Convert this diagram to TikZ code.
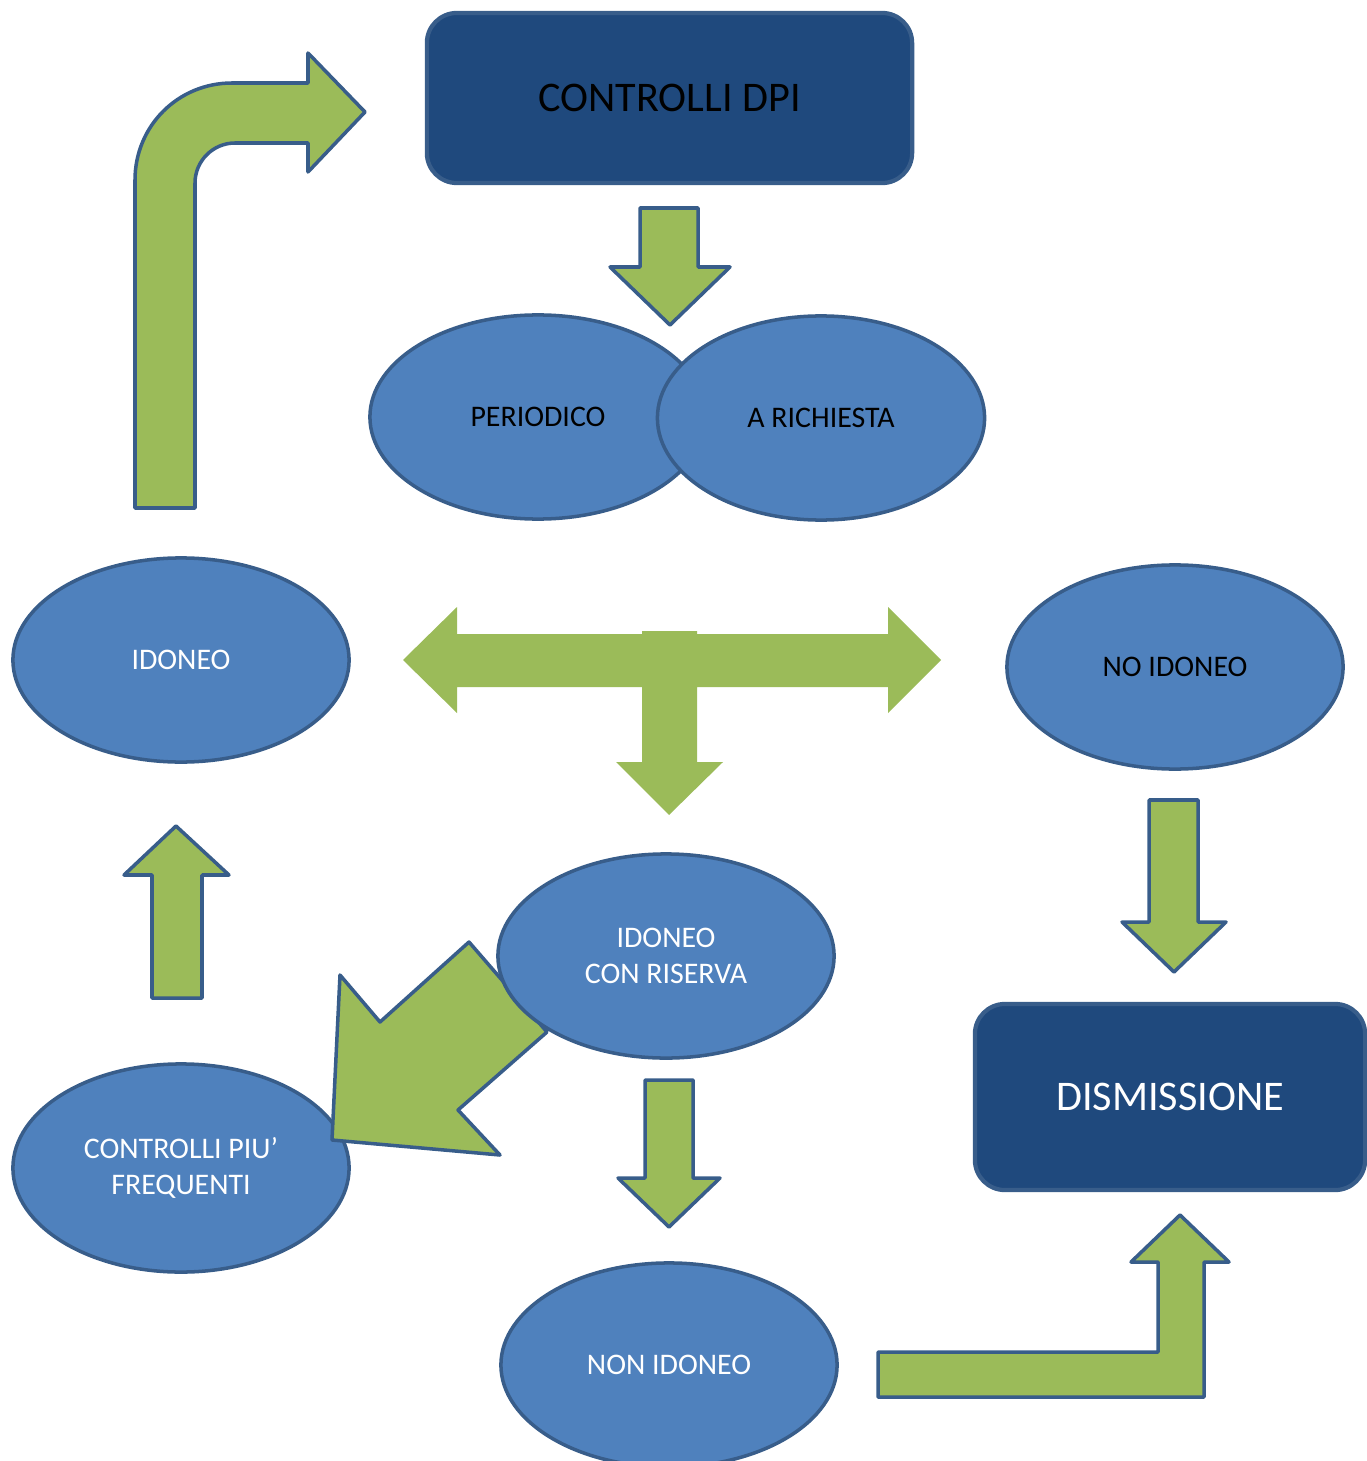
\documentclass[tikz,border=0pt]{standalone}
\usepackage{fontspec}
\setmainfont{Carlito}
\usetikzlibrary{shapes.geometric}

\definecolor{ovalblue}{HTML}{4F81BD}
\definecolor{edgeblue}{HTML}{385D8A}
\definecolor{boxblue}{HTML}{1F497D}
\definecolor{arrowgreen}{HTML}{9BBB59}

\tikzset{
  oval/.style={ellipse, draw=edgeblue, fill=ovalblue, line width=1pt, minimum width=3.36cm, minimum height=2.04cm, inner sep=0pt, align=center, font=\fontsize{8.5}{10.2}\selectfont},
  darkbox/.style={draw=edgeblue, fill=boxblue, rounded corners=0.3cm, line width=1.2pt, inner sep=0pt, font=\fontsize{12}{14}\selectfont},
  blockarrow/.style={draw=edgeblue, fill=arrowgreen, line width=1pt, line join=round}
}

\begin{document}
\begin{tikzpicture}[x=0.01cm, y=-0.01cm]
    \useasboundingbox (0,0) rectangle (1366,1461);

    % boxes
    \node[darkbox, minimum width=4.85cm, minimum height=1.7cm, text=black] (dpi) at (669.5,98) {CONTROLLI DPI};
    \node[darkbox, minimum width=3.9cm, minimum height=1.86cm, text=white] (dism) at (1170,1097) {DISMISSIONE};

    % ovals
    \node[oval, text=black] (periodico) at (538,417) {PERIODICO};
    \node[oval, minimum width=3.27cm, text=black] (richiesta) at (821,418) {A RICHIESTA};
    \node[oval, text=white] (idoneo) at (181,660) {IDONEO};
    \node[oval, text=black] (noidoneo) at (1175,667) {NO IDONEO};
    \node[oval, minimum height=2.08cm, text=white] (frequenti) at (181,1168) {CONTROLLI PIU’\\FREQUENTI};
    \node[oval, text=white] (nonidoneo) at (669,1365) {NON IDONEO};

    % block arrows
    \draw[blockarrow] (640,208) -- (698,208) -- (698,267) -- (730,267) -- (670,325) -- (610,267) -- (640,267) -- cycle;
    \draw[blockarrow] (135,508) -- (135,180) .. controls (135,126) and (178,83) .. (232,83) -- (308,83) -- (308,53) -- (365,112) -- (308,172) -- (308,143) -- (235,143) .. controls (213,143) and (195,161) .. (195,183) -- (195,508) -- cycle;
    \fill[arrowgreen] (403,660) -- (457,607) -- (457,634) -- (642,634) -- (642,631) -- (697,631) -- (697,634) -- (888,634) -- (888,607) -- (941,660) -- (888,713) -- (888,687) -- (697,687) -- (697,762) -- (723,762) -- (669,815) -- (616,762) -- (642,762) -- (642,687) -- (457,687) -- (457,713) -- cycle;
    \draw[blockarrow] (1149,800) -- (1198,800) -- (1198,922) -- (1226,922) -- (1174,972) -- (1122,922) -- (1149,922) -- cycle;
    \draw[blockarrow] (152,998) -- (152,875) -- (124,875) -- (176,826) -- (229,875) -- (202,875) -- (202,998) -- cycle;
    \draw[blockarrow] (547,1032) -- (469,942) -- (380,1022) -- (340,975) -- (332,1140) -- (500,1155) -- (458,1110) -- cycle;
    \draw[blockarrow] (645,1080) -- (693,1080) -- (693,1178) -- (720,1178) -- (669,1227) -- (618,1178) -- (645,1178) -- cycle;
    \draw[blockarrow] (878,1352) -- (1158,1352) -- (1158,1262) -- (1131,1262) -- (1180,1215) -- (1229,1262) -- (1204,1262) -- (1204,1397) -- (878,1397) -- cycle;

    % on top of the diagonal arrow
    \node[oval, text=white] (riserva) at (666,956) {IDONEO\\CON RISERVA};
\end{tikzpicture}
\end{document}
